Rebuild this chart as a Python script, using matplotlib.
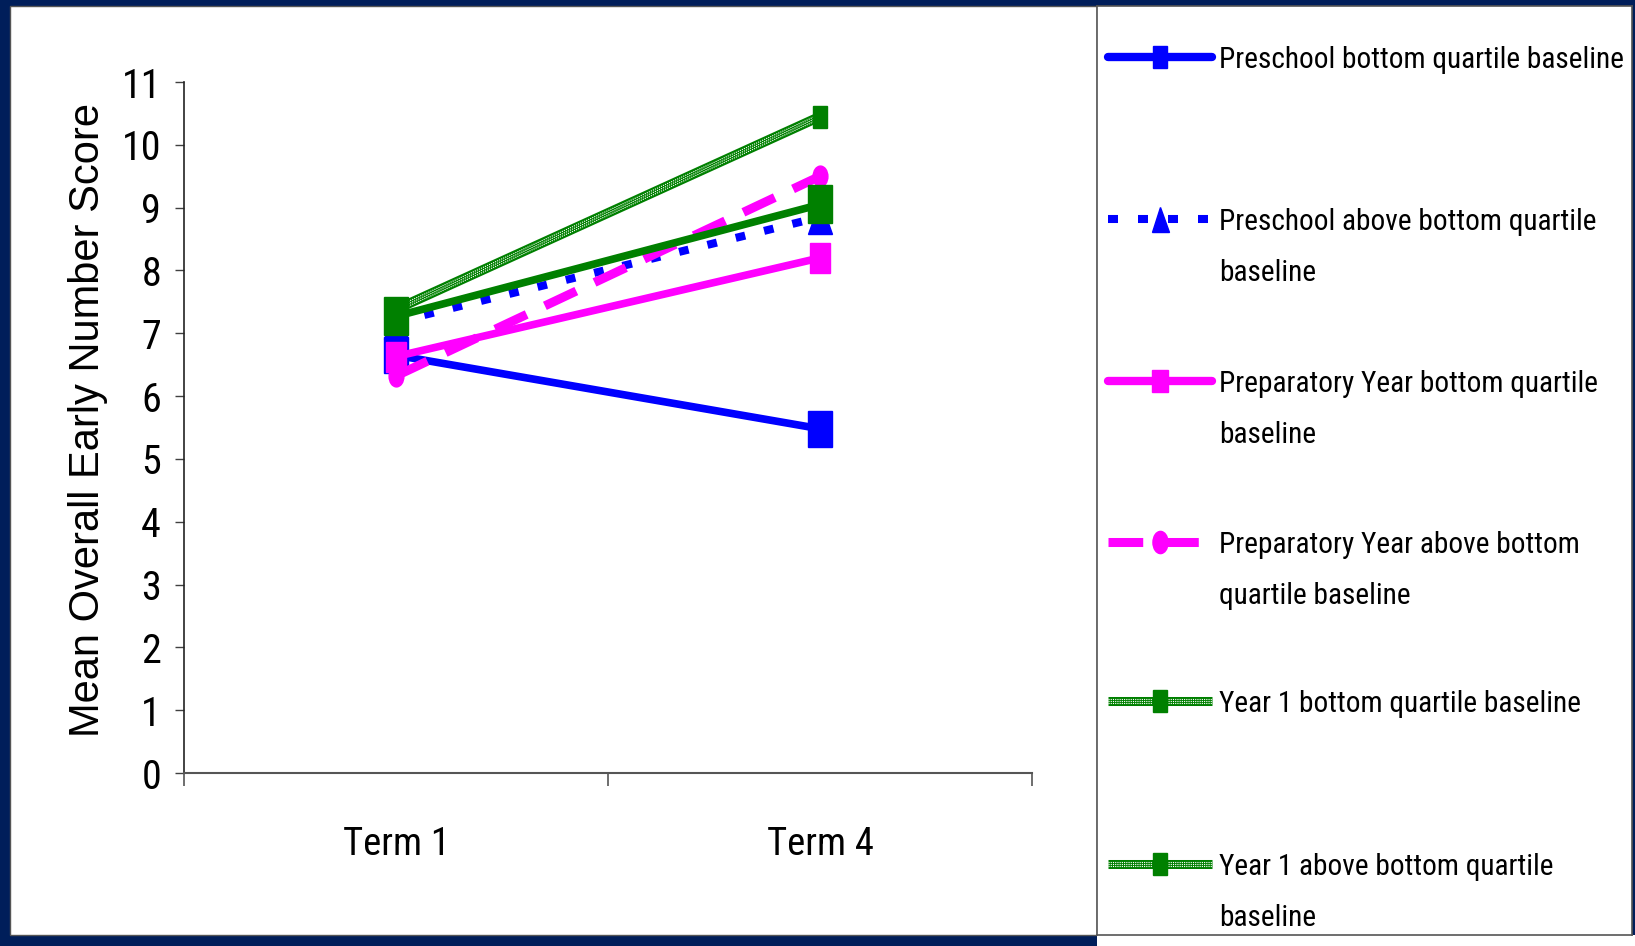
import matplotlib
matplotlib.use('Agg')
import matplotlib.pyplot as plt
import matplotlib.patheffects as pe
from matplotlib import font_manager as fm
from matplotlib.font_manager import FontProperties
from matplotlib.markers import MarkerStyle
from matplotlib.patches import Rectangle
from matplotlib.transforms import Affine2D

# values
terms = ['Term 1', 'Term 4']
preschool_bottom = [6.65, 5.48]
preschool_above = [7.18, 8.85]
prep_bottom = [6.63, 8.20]
prep_above = [6.32, 9.50]
year1_bottom = [7.38, 10.45]
year1_above = [7.27, 9.05]
y_ticks = list(range(0, 12))

legend_labels = ['Preschool bottom quartile baseline',
                 'Preschool above bottom quartile\nbaseline',
                 'Preparatory Year bottom quartile\nbaseline',
                 'Preparatory Year above bottom\nquartile baseline',
                 'Year 1 bottom quartile baseline',
                 'Year 1 above bottom quartile\nbaseline']

BLUE = '#0000ff'
PINK = '#ff00ff'
GREEN = '#008000'
NAVY = '#001e5a'

plt.rcParams['lines.scale_dashes'] = False


def find_narrow_font():
    # the original uses a condensed Arial-like face; take whatever narrow face exists
    prefs = ['Liberation Sans Narrow', 'Roboto Condensed', 'Open Sans Condensed',
             'Noto Sans Condensed', 'DejaVu Sans Condensed']
    regular = ('normal', 'regular', 'book', 400)
    fonts = fm.fontManager.ttflist
    for p in prefs:
        for f in fonts:
            if f.name == p and f.style == 'normal' and f.weight in regular:
                return f.fname
    for f in fonts:
        if str(f.stretch) in ('condensed', 'semi-condensed', 'extra-condensed') \
                and f.style == 'normal' and f.weight in regular:
            return f.fname
    return None


narrow_file = find_narrow_font()


def narrow(size):
    if narrow_file:
        return FontProperties(fname=narrow_file, size=size)
    return FontProperties(family='Liberation Sans', size=size)


W, H = 1635, 946
fig = plt.figure(figsize=(W / 100, H / 100), dpi=100)
fig.patch.set_facecolor(NAVY)
renderer = fig.canvas.get_renderer()


def fit_size(text, target_px, base=20):
    t = fig.text(0, 0, text, fontproperties=narrow(base))
    w = t.get_window_extent(renderer).width
    t.remove()
    return base * target_px / w


def fig_box(x0, y0, x1, y1):
    # pixel box (top-left origin) -> figure fraction rect
    return [x0 / W, 1 - y1 / H, (x1 - x0) / W, (y1 - y0) / H]


def mk(shape, sx):
    return MarkerStyle(shape, transform=Affine2D().scale(sx, 1.0))


texture = [pe.Stroke(offset=(0, 1.7), linewidth=0.8, foreground='white'),
           pe.Stroke(offset=(0, -1.7), linewidth=0.8, foreground='white'),
           pe.Normal()]

# white panels behind chart and legend
r = fig_box(10, 6, 1097, 935)
fig.add_artist(Rectangle((r[0], r[1]), r[2], r[3], transform=fig.transFigure,
                         facecolor='white', edgecolor='#555555', lw=1, zorder=-2))
r = fig_box(1097, 935, 1635, 946)
fig.add_artist(Rectangle((r[0], r[1]), r[2], r[3], transform=fig.transFigure,
                         facecolor='white', edgecolor='none', zorder=-2))

ax = fig.add_axes(fig_box(184, 82, 1032, 773))
ax.set_facecolor('none')
x = list(range(len(terms)))

ax.plot(x, preschool_bottom, color=BLUE, lw=5.5, solid_capstyle='round',
        marker=mk('s', 0.65), ms=26.5)
ax.plot(x, preschool_above, color=BLUE, lw=5.8, ls=(0, (7, 14)),
        marker=mk('^', 0.68), ms=25)
ax.plot(x, prep_bottom, color=PINK, lw=5.5, solid_capstyle='round',
        marker=mk('s', 0.67), ms=21.5)
ax.plot(x, prep_above, color=PINK, lw=6.5, ls=(0, (25, 14.5)),
        marker=mk('o', 0.71), ms=15)
# textured green line
ax.plot(x, year1_bottom, color=GREEN, lw=7)
ax.plot(x, year1_bottom, color='white', lw=0.8, ls=(0, (0.8, 0.8)),
        path_effects=texture)
ax.plot(x, year1_bottom, ls='none', color=GREEN, marker=mk('s', 0.65), ms=16.5)
ax.plot(x, year1_above, color=GREEN, lw=5.5, solid_capstyle='round',
        marker=mk('s', 0.63), ms=27.3)

tick_size = fit_size('10', 33) * 1.2
term_size = fit_size('Term 1', 99) * 1.08

ax.set_xlim(-0.5, 1.5)
ax.set_ylim(0, 11)
ax.set_yticks(y_ticks)
ax.set_xticks(x, terms)
ax.set_xticks([-0.5, 0.5, 1.5], minor=True)
ax.tick_params(axis='y', direction='out', length=6.5, width=1, color='#404040', pad=10)
ax.tick_params(axis='x', which='major', length=0, pad=38)
ax.tick_params(axis='x', which='minor', direction='out', length=9.5, width=1.2,
               color='#555555')
for lab in ax.get_yticklabels():
    lab.set_fontproperties(narrow(tick_size))
for lab in ax.get_xticklabels():
    lab.set_fontproperties(narrow(term_size))
for s in ['top', 'right']:
    ax.spines[s].set_visible(False)
ax.spines['left'].set_color('#222222')
ax.spines['left'].set_linewidth(1.2)
ax.spines['bottom'].set_color('#555555')
ax.spines['bottom'].set_linewidth(1.5)

ax.set_ylabel('Mean Overall Early Number Score', fontsize=30,
              family='Liberation Sans', va='center')
ax.yaxis.set_label_coords(-0.113, 0.511)

# legend panel, laid out in pixel units
lax = fig.add_axes(fig_box(1097, 6, 1632, 935))
lax.set_xlim(0, 535)
lax.set_ylim(929, 0)
lax.set_xticks([])
lax.set_yticks([])
for s in lax.spines.values():
    s.set_color('#555555')
    s.set_linewidth(1.2)

leg_size = fit_size('Preschool bottom quartile baseline', 405)
# line pitch of 51 px between wrapped lines
t1 = fig.text(0, 0, 'A', fontproperties=narrow(leg_size))
t2 = fig.text(0, 0, 'A\nA', fontproperties=narrow(leg_size))
pitch = t2.get_window_extent(renderer).height - t1.get_window_extent(renderer).height
t1.remove()
t2.remove()
spacing = 1.2 * 51 / pitch * 51 / 47
cap_px = 0.36 * leg_size * 100 / 72

handles = [
    dict(color=BLUE, lw=6, ls='-', marker=mk('s', 0.65), ms=16.5, tex=False),
    dict(color=BLUE, lw=5.8, ls=(0, (7.2, 14.4)), marker=mk('^', 0.68), ms=18, tex=False),
    dict(color=PINK, lw=6, ls='-', marker=mk('s', 0.68), ms=16, tex=False),
    dict(color=PINK, lw=6.5, ls=(0, (25, 15)), marker=mk('o', 0.68), ms=16, tex=False),
    dict(color=GREEN, lw=6.5, ls='-', marker=mk('s', 0.65), ms=16.5, tex=True),
    dict(color=GREEN, lw=6.5, ls='-', marker=mk('s', 0.65), ms=16.5, tex=True),
]
rows = [51, 213, 375, 536, 695, 858]
for y, h, label in zip(rows, handles, legend_labels):
    lax.plot([11, 115], [y, y], color=h['color'], lw=h['lw'], ls=h['ls'],
             solid_capstyle='butt' if h['tex'] else 'round')
    if h['tex']:
        lax.plot([11, 115], [y, y], color='white', lw=0.8, ls=(0, (0.8, 0.8)),
                 path_effects=texture)
    lax.plot([63], [y], ls='none', color=h['color'], marker=h['marker'], ms=h['ms'])
    # baseline of a wrapped label sits on its last line
    n_extra = label.count('\n')
    lax.text(122, y + cap_px + 51 * n_extra, label, va='baseline', ha='left',
             fontproperties=narrow(leg_size), linespacing=spacing)

fig.savefig('out.png', dpi=100, facecolor=fig.get_facecolor())
